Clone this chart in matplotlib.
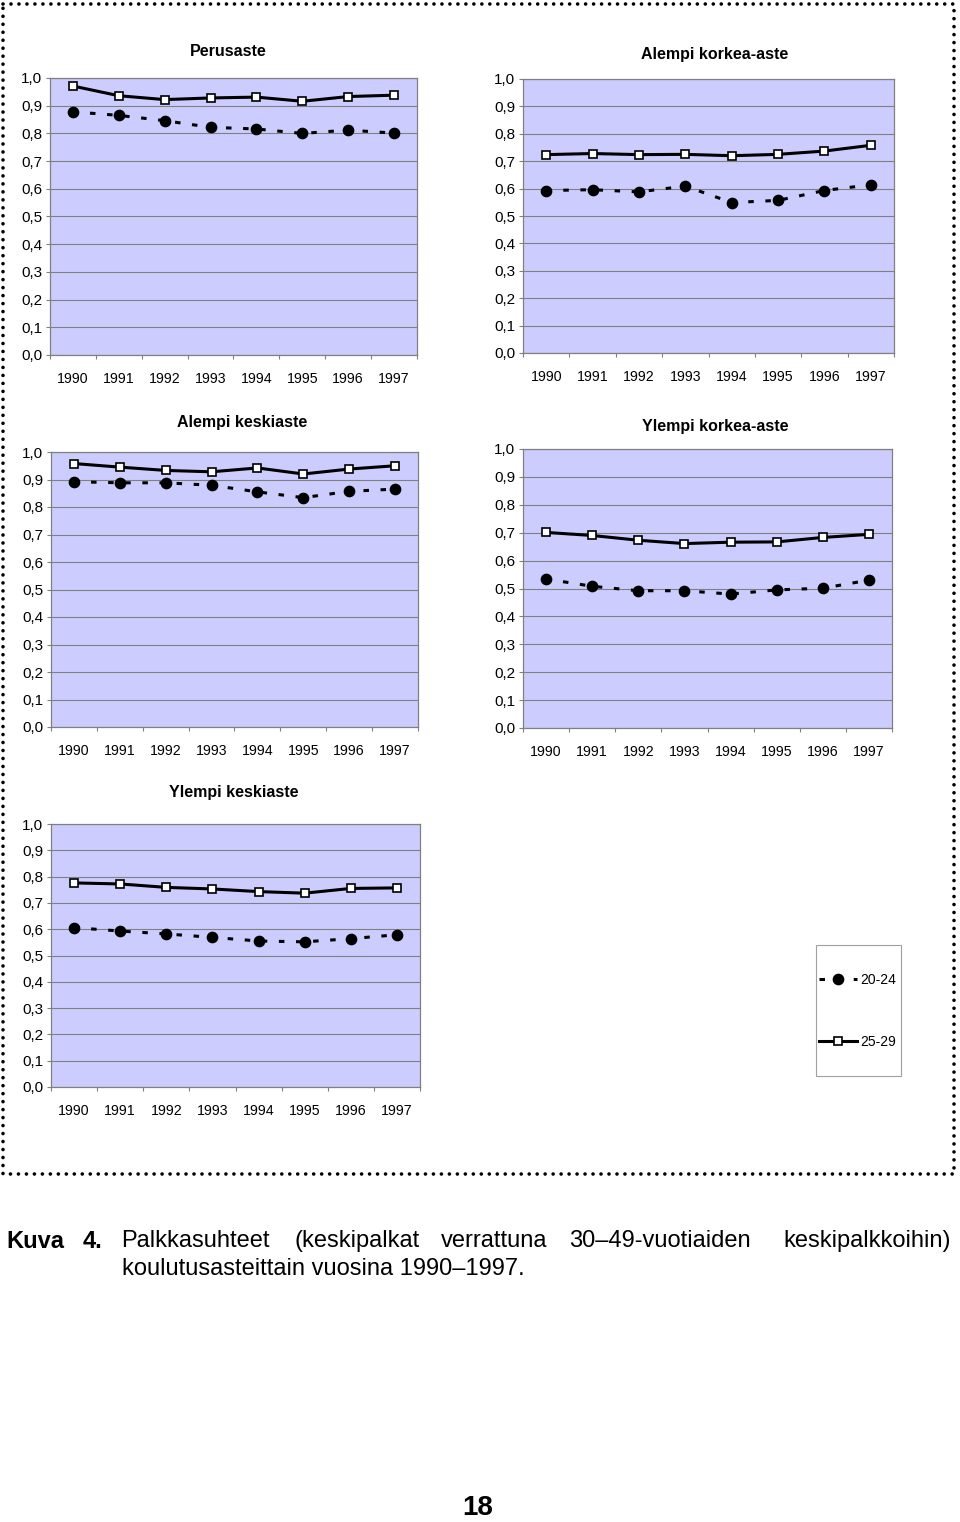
import matplotlib
matplotlib.use("Agg")
import matplotlib.pyplot as plt
from matplotlib.patches import Rectangle
import numpy as np

plt.rcParams['font.family'] = ['Liberation Sans', 'DejaVu Sans']

# ---------------- data ----------------
years = ['1990', '1991', '1992', '1993', '1994', '1995', '1996', '1997']
y_tick_values = [0.0, 0.1, 0.2, 0.3, 0.4, 0.5, 0.6, 0.7, 0.8, 0.9, 1.0]
y_tick_labels = ['0,0', '0,1', '0,2', '0,3', '0,4', '0,5', '0,6', '0,7', '0,8', '0,9', '1,0']
series_labels = ['20-24', '25-29']

titles = ['Perusaste', 'Alempi korkea-aste', 'Alempi keskiaste',
          'Ylempi korkea-aste', 'Ylempi keskiaste']

perusaste_20_24 = [0.878, 0.865, 0.846, 0.822, 0.816, 0.800, 0.812, 0.801]
perusaste_25_29 = [0.971, 0.936, 0.922, 0.928, 0.931, 0.916, 0.933, 0.938]

alempi_korkea_20_24 = [0.593, 0.596, 0.588, 0.609, 0.549, 0.557, 0.593, 0.614]
alempi_korkea_25_29 = [0.724, 0.728, 0.724, 0.725, 0.720, 0.725, 0.737, 0.758]

alempi_keski_20_24 = [0.892, 0.888, 0.888, 0.879, 0.855, 0.834, 0.857, 0.865]
alempi_keski_25_29 = [0.958, 0.945, 0.933, 0.928, 0.942, 0.920, 0.938, 0.950]

ylempi_korkea_20_24 = [0.534, 0.508, 0.492, 0.492, 0.480, 0.495, 0.501, 0.530]
ylempi_korkea_25_29 = [0.701, 0.690, 0.673, 0.661, 0.666, 0.667, 0.683, 0.694]

ylempi_keski_20_24 = [0.606, 0.593, 0.582, 0.569, 0.555, 0.552, 0.564, 0.579]
ylempi_keski_25_29 = [0.776, 0.772, 0.759, 0.753, 0.743, 0.737, 0.755, 0.757]

# ---------------- layout ----------------
W, H = 960, 1522
fig = plt.figure(figsize=(W / 100, H / 100), dpi=100)


def box(L, T, R, B):
    return [L / W, 1 - B / H, (R - L) / W, (B - T) / H]


# overlay for page decorations (pixel coordinates)
ov = fig.add_axes([0, 0, 1, 1])
ov.set_xlim(0, W)
ov.set_ylim(H, 0)
ov.axis('off')
ov.patch.set_visible(False)

# dotted frame
ov.plot([3, 954, 954, 3, 3], [4, 4, 1174, 1174, 4], color='black', lw=2.6,
        ls=(0, (0.01, 2.2)), dash_capstyle='round')

panels = [
    (titles[0], perusaste_20_24, perusaste_25_29, (50, 78, 417, 355), (228, 52)),
    (titles[1], alempi_korkea_20_24, alempi_korkea_25_29, (523, 79, 894, 353), (715, 55)),
    (titles[2], alempi_keski_20_24, alempi_keski_25_29, (51, 452, 418, 727), (242, 423)),
    (titles[3], ylempi_korkea_20_24, ylempi_korkea_25_29, (523, 449, 892, 728), (715, 426)),
    (titles[4], ylempi_keski_20_24, ylempi_keski_25_29, (51, 824, 420, 1087), (234, 792)),
]

grey = '#808080'
handles = None
for title, d20, d25, (L, T, R, B), (tx, ty) in panels:
    ax = fig.add_axes(box(L, T, R, B))
    ax.set_facecolor('#CCCCFF')
    x = np.arange(len(years))
    ax.set_xlim(-0.5, len(years) - 0.5)
    ax.set_ylim(0, 1)
    ax.set_yticks(y_tick_values)
    ax.set_yticklabels(y_tick_labels, fontsize=11)
    ax.yaxis.grid(True, color=grey, lw=0.8)
    ax.set_axisbelow(True)
    ax.set_xticks(x)
    ax.set_xticklabels(years, fontsize=10.2)
    ax.set_xticks(np.arange(len(years) + 1) - 0.5, minor=True)
    ax.tick_params(axis='x', which='major', length=0, pad=12)
    ax.tick_params(axis='x', which='minor', length=3, color=grey, width=0.8)
    ax.tick_params(axis='y', length=3, color=grey, width=0.8, pad=2.5)
    for s in ax.spines.values():
        s.set_color(grey)
        s.set_linewidth(0.9)
    l1, = ax.plot(x, d20, color='black', ls=(0, (1.8, 3.8)), lw=2.2,
                  marker='o', ms=7.4, mfc='black', mec='black', zorder=3)
    l2, = ax.plot(x, d25, color='black', ls='-', lw=2.2,
                  marker='s', ms=6, mfc='white', mec='black', mew=1.2, zorder=4)
    handles = [l1, l2]
    fig.text(tx / W, 1 - ty / H, title, ha='center', va='center',
             fontsize=11.5, fontweight='bold')

# legend
fig.legend(handles, series_labels, loc='upper left',
           bbox_to_anchor=(819 / W, 1 - 973 / H), frameon=False,
           handlelength=2.75, handletextpad=0.25, labelspacing=3.46,
           fontsize=10, borderpad=0, borderaxespad=0)
ov.add_patch(Rectangle((816, 945), 85, 131, fill=False, ec='#A0A0A0', lw=0.8))

# caption
cap_fs = 17
fig.text(6 / W, 1 - 1241 / H, 'Kuva', fontsize=cap_fs, fontweight='bold', va='center')
fig.text(83 / W, 1 - 1241 / H, '4.', fontsize=cap_fs, fontweight='bold', va='center')
words = [('Palkkasuhteet', 121), ('(keskipalkat', 294), ('verrattuna', 441),
         ('30\u201349-vuotiaiden', 569)]
for w, px in words:
    fig.text(px / W, 1 - 1241 / H, w, fontsize=cap_fs, va='center')
fig.text(951 / W, 1 - 1241 / H, 'keskipalkkoihin)', fontsize=cap_fs, va='center', ha='right')
fig.text(122 / W, 1 - 1269 / H, 'koulutusasteittain vuosina 1990\u20131997.',
         fontsize=cap_fs, va='center')

# page number
fig.text(478 / W, 1 - 1508 / H, '18', ha='center', va='center', fontsize=20, fontweight='bold')

fig.savefig('out.png', dpi=100)
